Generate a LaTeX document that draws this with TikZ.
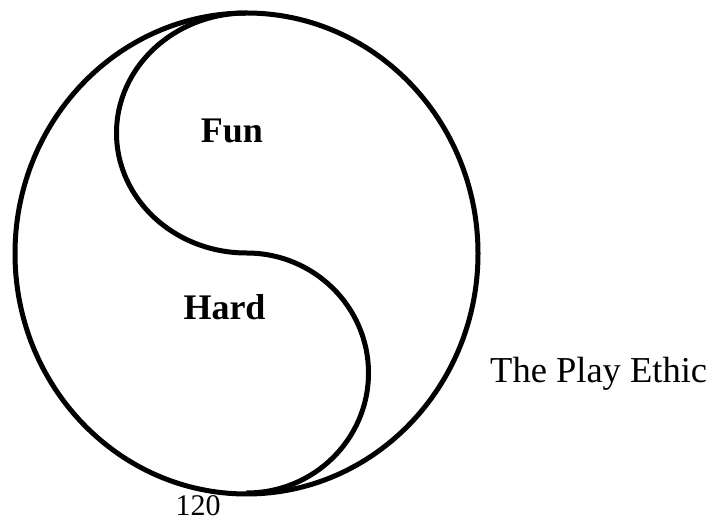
\documentclass[tikz,border=0pt]{standalone}
\usepackage{fontspec}
\setmainfont{Liberation Serif}
\begin{document}
\begin{tikzpicture}[x=1pt,y=1pt,
  outline/.style={line width=5pt, draw=black},
  biglabel/.style={font=\fontsize{36}{40}\selectfont\bfseries, inner sep=0pt, anchor=base},
  sidelabel/.style={font=\fontsize{36.5}{40}\selectfont, inner sep=0pt, anchor=base west},
  pagelabel/.style={font=\fontsize{30}{34}\selectfont, inner sep=0pt, anchor=base}]
\useasboundingbox (0,0) rectangle (715,522);
% outer circle
\draw[outline] (246.5,268.5) ellipse [x radius=231.5, y radius=240.5];
% S curve
\coordinate (top) at (246.5,509);
\draw[outline] (top) arc[start angle=90, end angle=270, x radius=130, y radius=120]
  coordinate (mid)
  arc[start angle=90, end angle=-90, x radius=122, y radius=120] coordinate (bottom);
\node[biglabel] (fun) at (232,379) {Fun};
\node[biglabel] (hard) at (224.5,202) {Hard};
\node[sidelabel] (title) at (490,139) {The Play Ethic};
\node[pagelabel] (page) at (198,6) {120};
\end{tikzpicture}
\end{document}
